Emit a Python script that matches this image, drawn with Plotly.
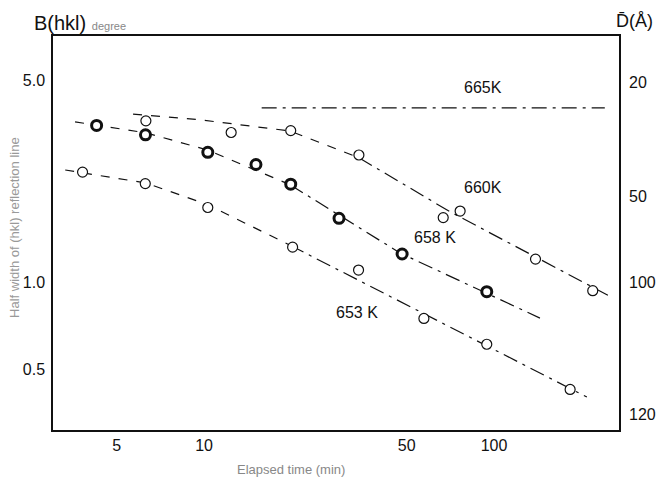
import math
import plotly.graph_objects as go

# ---- data ----
t_660 = [6.3, 12.4, 19.9, 34.2, 66.8, 76.4, 139, 219]
b_660 = [3.61, 3.29, 3.34, 2.75, 1.67, 1.76, 1.20, 0.933]

t_658 = [4.26, 6.28, 10.3, 15.1, 19.9, 29.2, 48.2, 94.4]
b_658 = [3.48, 3.23, 2.81, 2.55, 2.18, 1.66, 1.25, 0.926]

t_653 = [3.81, 6.27, 10.3, 20.2, 34.1, 57.3, 94.4, 183]
b_653 = [2.40, 2.19, 1.81, 1.32, 1.10, 0.748, 0.609, 0.425]

# hand-drawn trend curves (early dashed part, later dash-dot part)
c660_t1 = [5.69, 9.69, 19.8, 34.2]
c660_b1 = [3.81, 3.64, 3.33, 2.69]
c660_t2 = [34.2, 70.5, 133, 247]
c660_b2 = [2.69, 1.75, 1.25, 0.90]

c658_t1 = [3.59, 6.31, 10.3, 19.8]
c658_b1 = [3.58, 3.28, 2.86, 2.17]
c658_t2 = [19.8, 47.4, 144]
c658_b2 = [2.17, 1.26, 0.75]

c653_t1 = [3.32, 6.31, 10.3, 19.8]
c653_b1 = [2.44, 2.20, 1.85, 1.34]
c653_t2 = [19.8, 209]
c653_b2 = [1.34, 0.40]

c665_t = [15.8, 241]
c665_b = [4.0, 4.0]

labels = ["665K", "660K", "658 K", "653 K"]
label_t = [91.6, 91.6, 62.7, 33.7]
label_b = [4.69, 2.13, 1.43, 0.787]

x_ticks = [5, 10, 50, 100]
x_ticktext = ["5", "10", "50", "100"]
y_ticks = [0.5, 1.0, 5.0]
y_ticktext = ["0.5", "1.0", "5.0"]
d_ticktext = ["20", "50", "100", "120"]
d_pos_b = [4.92, 1.97, 1.0, 0.347]

FONT = "Liberation Sans, Arial, sans-serif"
INK = "#111111"

fig = go.Figure()

def curve(t, b, dash):
    fig.add_trace(go.Scatter(x=t, y=b, mode="lines",
                             line=dict(color=INK, width=1.2, dash=dash),
                             showlegend=False, hoverinfo="skip"))

curve(c665_t, c665_b, "longdashdot")
curve(c660_t1, c660_b1, "dash")
curve(c660_t2, c660_b2, "longdashdot")
curve(c658_t1, c658_b1, "dash")
curve(c658_t2, c658_b2, "longdashdot")
curve(c653_t1, c653_b1, "dash")
curve(c653_t2, c653_b2, "longdashdot")

fig.add_trace(go.Scatter(x=t_660, y=b_660, mode="markers",
                         marker=dict(symbol="circle", size=10, color="white",
                                     line=dict(color=INK, width=1.2)),
                         showlegend=False))
fig.add_trace(go.Scatter(x=t_658, y=b_658, mode="markers",
                         marker=dict(symbol="circle", size=10, color="white",
                                     line=dict(color=INK, width=3)),
                         showlegend=False))
fig.add_trace(go.Scatter(x=t_653, y=b_653, mode="markers",
                         marker=dict(symbol="circle", size=10, color="white",
                                     line=dict(color=INK, width=1.2)),
                         showlegend=False))

# invisible trace for the right axis
fig.add_trace(go.Scatter(x=[10], y=[1], yaxis="y2", mode="markers",
                         marker=dict(opacity=0), showlegend=False, hoverinfo="skip"))

for txt, tx, by in zip(labels, label_t, label_b):
    fig.add_annotation(x=math.log10(tx), y=math.log10(by), xref="x", yref="y",
                       text=txt, showarrow=False,
                       font=dict(family=FONT, size=16, color=INK))

# axis titles
fig.add_annotation(xref="paper", yref="paper", x=-0.037, y=1.0, yanchor="bottom", xanchor="left",
                   text="B(hkl) <span style='font-size:11px;color:#888'>degree</span>",
                   showarrow=False, font=dict(family=FONT, size=20, color=INK), yshift=0)
fig.add_annotation(xref="paper", yref="paper", x=1.0636, y=1.0, yanchor="bottom", xanchor="right",
                   text="D\u0304(Å)", showarrow=False,
                   font=dict(family=FONT, size=18, color=INK), yshift=3)
fig.add_annotation(xref="paper", yref="paper", x=-0.067, y=0.513, textangle=-90,
                   xanchor="center", yanchor="middle",
                   text="Half width of (hkl) reflection line", showarrow=False,
                   font=dict(family=FONT, size=13, color="#999"))
fig.add_annotation(xref="paper", yref="paper", x=0.42, y=-0.075, yanchor="top",
                   text="Elapsed time (min)", showarrow=False,
                   font=dict(family=FONT, size=13, color="#888"))

yr = [-0.512, 0.851]
tf = dict(family=FONT, size=16, color=INK)
fig.update_layout(
    width=658, height=477,
    margin=dict(l=53, r=39, t=36, b=47),
    paper_bgcolor="white", plot_bgcolor="white",
    xaxis=dict(type="log", range=[0.479, 2.431], tickvals=x_ticks, ticktext=x_ticktext,
               showgrid=False, zeroline=False, showline=True, linecolor=INK, linewidth=1.5,
               mirror=True, ticks="", tickfont=tf, automargin=False),
    yaxis=dict(type="log", range=yr, tickvals=y_ticks, ticktext=y_ticktext,
               showgrid=False, zeroline=False, showline=True, linecolor=INK, linewidth=1.5,
               mirror=True, ticks="", tickfont=tf, ticklabelstandoff=3, automargin=False),
    yaxis2=dict(type="log", range=yr, overlaying="y", side="right", tickvals=d_pos_b,
                ticktext=d_ticktext, showgrid=False, zeroline=False, showline=False,
                ticks="", tickfont=tf, ticklabelstandoff=9, automargin=False),
)

fig.write_html("out.html", config={"displayModeBar": False},
               post_script="document.body.style.margin='0';document.body.style.overflow='hidden';")
